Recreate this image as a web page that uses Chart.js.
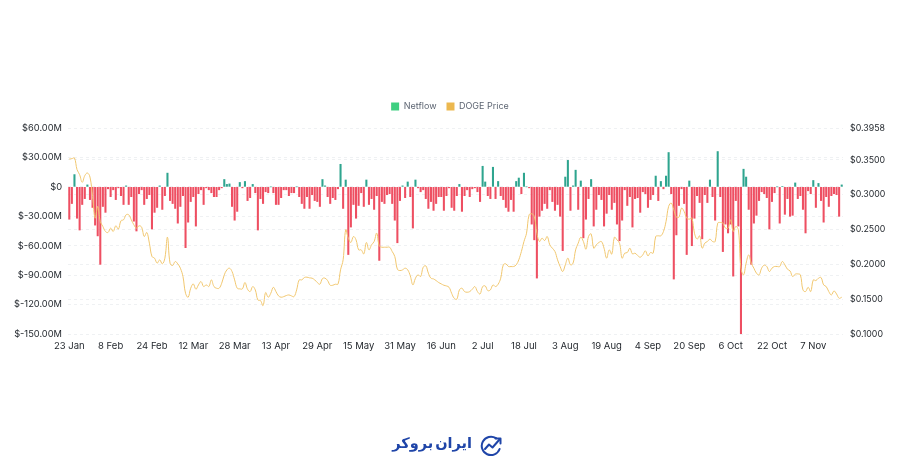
<!DOCTYPE html>
<html>
<head>
<meta charset="utf-8">
<title>DOGE Netflow</title>
<script src="https://cdn.jsdelivr.net/npm/chart.js@4"></script>
<style>
    html, body { margin: 0; padding: 0; background: #fff; }
    #wrap { position: relative; width: 900px; height: 471px; overflow: hidden; }
    #logo { position: absolute; left: 388px; top: 428px; width: 118px; height: 36px; }
    #logo span { position: absolute; left: 0; top: 7px; width: 84px; text-align: right; direction: rtl;
        font: bold 14.5px "DejaVu Sans", sans-serif; word-spacing: -3px; color: #1f45a8; white-space: nowrap; }
    #logo svg { position: absolute; left: 91px; top: 7px; }
</style>
</head>
<body>
<div id="wrap">
    <canvas id="netflowChart" width="900" height="471"></canvas>
    <div id="logo">
        <span>ایران بروکر</span>
        <svg width="24" height="22" viewBox="0 0 24 22" fill="none" stroke="#1f45a8" stroke-width="2" stroke-linecap="round" stroke-linejoin="round">
            <path d="M17 3.2 A9.2 9.2 0 1 0 20.6 14"/>
            <path d="M6 14 L10 9.5 L13.5 12.5 L20.5 4.5"/>
            <path d="M16.5 3.5 L21.5 3.5 L21.5 8.5"/>
        </svg>
    </div>
</div>
<script>
var netflow = [
    -33, -17, 12.5, -32, -44, -18, -12, 2, -13, -21, -39, -50, -79, -20, -26, -2, -10, -3, -13, -1,
    -9, -18, 1, -18, -10, -35, -45, -7, -3, -18, -12, -8, -43, -26, -21, 1, -23, -9, 14, -14,
    -17, -22, -37, -20, -9, -62, -36, -15, -10, -40, -7, -3, -18, -1, -3, -6, -10, -10, -3, -1,
    7.5, 2.5, 3, -20, -34, -25, 4.5, -1, 5.5, -14, -11, 2.5, -6, -44, -12, -17, -5, -6, 0, -6,
    -18, -18, -11, -3, -3, -9, -6, -6, 0, -10,
    -17, -22, -10, -22, -8, -14, -15, -20, 7.5, 1, -10, -17, -11, -13, -2, 23, -22, 7, -69, -41,
    -18, -32, -19, -6, -20, 7, -18, -12, -23, -9, -75, -15, -17, -8, -7, -17, -34, -57, -14, 1,
    -11, 5, -10, -42, 7, -1, -5, -3, -12, -22, -15, -24, -17, -10, -10, -24, -9, -1, -21, -24,
    -9, 2.5, -25, -9, -3, -10, -2, -1, -5, -15, 21, 5, -9, -12, 20, -12, 5.5, -9, -13, -21,
    -25, -13, -25, 5.5, 9, -7, 14, 0, -1, -38, -54, -93, -30, -24, -17, -22, -3, -15, -24, -18,
    -30, -65, 10, 27, -24, 1, 17, -23, 6, -52, -33, -12, 7.5, -40, -23, -8,
    -13, -40, -27, -8, -23, -16, -38, -55, -34, -3, -19, -10, -41, -12, -11, -26, -5, -7, -21, -13,
    -8, 11, -14, 5.5, -2, 11, 35, -7, -94, -49, -19, -2, -17, -69, 6, -60, -32, -9, -16, -53,
    -8, -16, 7, -10, -34, 36, -10, -66, -38, -47, -38, -91, -14, -40, -150, 18, 10, -23, -79, -37,
    -29, -14, -5, -7, -11, -43, -15, -6, 0, -37, 0.5, -28, -12, -30, -29, 4, -12, -9, -23, -47,
    -4, -7, 6.5, -21, 3.5, -14, -36, -10, -20, -9, -7, -8, -30, 2
];

var dogePrice = [
    .3513, .3518, .3528, .3360, .3288, .3178, .3274, .3312, .3254, .2976, .2664, .2832, .2616, .2544, .2472, .2458, .2520, .2472, .2554, .2506,
    .2626, .2640, .2712, .2712, .2640, .2568, .2520, .2554, .2534, .2400, .2458, .2304, .2113, .2089, .2017, .2065, .2007, .2089, .2390, .2017,
    .1983, .2041, .2007, .1945, .1825, .1585, .1528, .1657, .1719, .1643, .1705, .1753, .1681, .1705, .1681, .1777, .1681, .1657, .1657, .1729,
    .1849, .1921, .1945, .1897, .1777, .1657, .1648, .1648, .1739, .1643, .1609, .1681, .1633, .1489, .1480, .1408, .1595, .1528, .1585, .1671,
    .1609, .1547, .1528, .1537, .1552, .1561, .1547, .1537, .1633, .1777,
    .1777, .1811, .1816, .1806, .1801, .1777, .1739, .1715, .1796, .1801, .1767, .1700, .1700, .1715, .1715, .1921, .2065, .2496, .2376, .2314,
    .2400, .2352, .2208, .2208, .2150, .2314, .2208, .2280, .2328, .2448, .2266, .2246, .2246, .2246, .2246, .2184, .2113, .1930, .1911, .1921,
    .1945, .1921, .1835, .1705, .1801, .1849, .1825, .1959, .1979, .1873, .1801, .1791, .1767, .1739, .1719, .1700, .1690, .1671, .1585, .1513,
    .1499, .1633, .1657, .1609, .1600, .1609, .1643, .1681, .1609, .1575, .1681, .1690, .1623, .1633, .1705, .1681, .1715, .1801, .1993, .2007,
    .1969, .1969, .1969, .1993, .2065, .2184, .2328, .2448, .2712, .2726, .2688, .2448, .2328, .2376, .2342, .2400, .2280, .2232, .2184, .2065,
    .1969, .1897, .1993, .2089, .1993, .2017, .2208, .2304, .2390, .2328, .2218, .2400, .2438, .2232, .2280, .2314,
    .2328, .2232, .2089, .2208, .2146, .2390, .2352, .2304, .2089, .2160, .2170, .2232, .2150, .2160, .2127, .2103, .2136, .2194, .2122, .2170,
    .2160, .2400, .2410, .2410, .2472, .2616, .2832, .2880, .2784, .2678, .2678, .2808, .2760, .2664, .2650, .2664, .2448, .2362, .2410, .2232,
    .2304, .2328, .2362, .2328, .2328, .2592, .2602, .2592, .2520, .2520, .2640, .2472, .2544, .2496, .1945, .1849, .2017, .2136, .2017, .1945,
    .1873, .1849, .1945, .1988, .1969, .1897, .1945, .1969, .1969, .1969, .2041, .1993, .1930, .1906, .1825, .1859, .1863, .1849, .1633, .1609,
    .1671, .1609, .1777, .1767, .1801, .1811, .1705, .1681, .1609, .1561, .1618, .1575, .1513, .1528
];

var leftTicks = [60, 30, 0, -30, -60, -90, -120, -150];
var rightTicks = [0.3958, 0.35, 0.30, 0.25, 0.20, 0.15, 0.10];

var months = ['Jan', 'Feb', 'Mar', 'Apr', 'May', 'Jun', 'Jul', 'Aug', 'Sep', 'Oct', 'Nov', 'Dec'];
var dates = [];
for (let i = 0; i < netflow.length; i++) {
    var d = new Date(Date.UTC(2025, 0, 23 + i));
    dates.push(d.getUTCDate() + ' ' + months[d.getUTCMonth()]);
}

var fontName = 'Inter, "Noto Sans", sans-serif';
var gridStyle = { color: '#eff1f3', lineWidth: 1, drawTicks: false };

// legend needs a bit more space below it than the label padding gives
var legendGap = {
    id: 'legendGap',
    beforeInit: function (chart) {
        var fit = chart.legend.fit;
        chart.legend.fit = function () {
            fit.bind(this)();
            this.height += 7;
        };
    }
};

new Chart(document.getElementById('netflowChart'), {
    type: 'bar',
    data: {
        labels: dates,
        datasets: [
            {
                label: 'DOGE Price',
                type: 'line',
                data: dogePrice,
                yAxisID: 'yRight',
                borderColor: '#f1c76f',
                backgroundColor: '#ecb84f',
                borderWidth: 1,
                pointRadius: 0,
                tension: 0.4,
                order: 0
            },
            {
                label: 'Netflow',
                data: netflow,
                yAxisID: 'yLeft',
                backgroundColor: function (ctx) {
                    return ctx.raw >= 0 ? '#2fa58f' : '#ee4f62';
                },
                barThickness: 1.4,
                order: 1
            }
        ]
    },
    options: {
        responsive: false,
        animation: false,
        layout: { padding: { top: 92, bottom: 117, left: 0, right: 0 } },
        plugins: {
            legend: {
                position: 'top',
                labels: {
                    boxWidth: 8,
                    boxHeight: 8,
                    padding: 10,
                    color: '#5e6673',
                    font: { family: fontName, size: 9 },
                    generateLabels: function () {
                        return [
                            { text: 'Netflow', fillStyle: '#3ecf81', strokeStyle: '#3ecf81', lineWidth: 0, fontColor: '#5e6673', datasetIndex: 1 },
                            { text: 'DOGE Price', fillStyle: '#ecb84f', strokeStyle: '#ecb84f', lineWidth: 0, fontColor: '#5e6673', datasetIndex: 0 }
                        ];
                    }
                }
            },
            tooltip: { enabled: false }
        },
        scales: {
            x: {
                grid: { display: false, drawTicks: false },
                border: { display: false },
                afterFit: function (scale) { scale.height = 20; },
                ticks: {
                    autoSkip: false,
                    maxRotation: 0,
                    padding: 6,
                    color: '#1e2329',
                    font: { family: fontName, size: 9.5 },
                    callback: function (value, index) {
                        return index % 16 === 0 ? dates[index] : '';
                    }
                }
            },
            yLeft: {
                position: 'left',
                min: -150,
                max: 60,
                grid: gridStyle,
                border: { display: false, dash: [3, 3] },
                afterFit: function (scale) { scale.width = 68; },
                afterBuildTicks: function (scale) {
                    scale.ticks = leftTicks.map(function (v) { return { value: v }; });
                },
                ticks: {
                    padding: 6,
                    color: '#1e2329',
                    font: { family: fontName, size: 9.3 },
                    callback: function (v) {
                        return v === 0 ? '$0' : '$' + v.toFixed(2) + 'M';
                    }
                }
            },
            yRight: {
                position: 'right',
                min: 0.10,
                max: 0.3958,
                grid: gridStyle,
                border: { display: false, dash: [3, 3] },
                afterFit: function (scale) { scale.width = 57; },
                afterBuildTicks: function (scale) {
                    scale.ticks = rightTicks.map(function (v) { return { value: v }; });
                },
                ticks: {
                    padding: 7,
                    color: '#1e2329',
                    font: { family: fontName, size: 8.8 },
                    callback: function (v) { return '$' + v.toFixed(4); }
                }
            }
        }
    },
    plugins: [legendGap]
});
</script>
</body>
</html>
